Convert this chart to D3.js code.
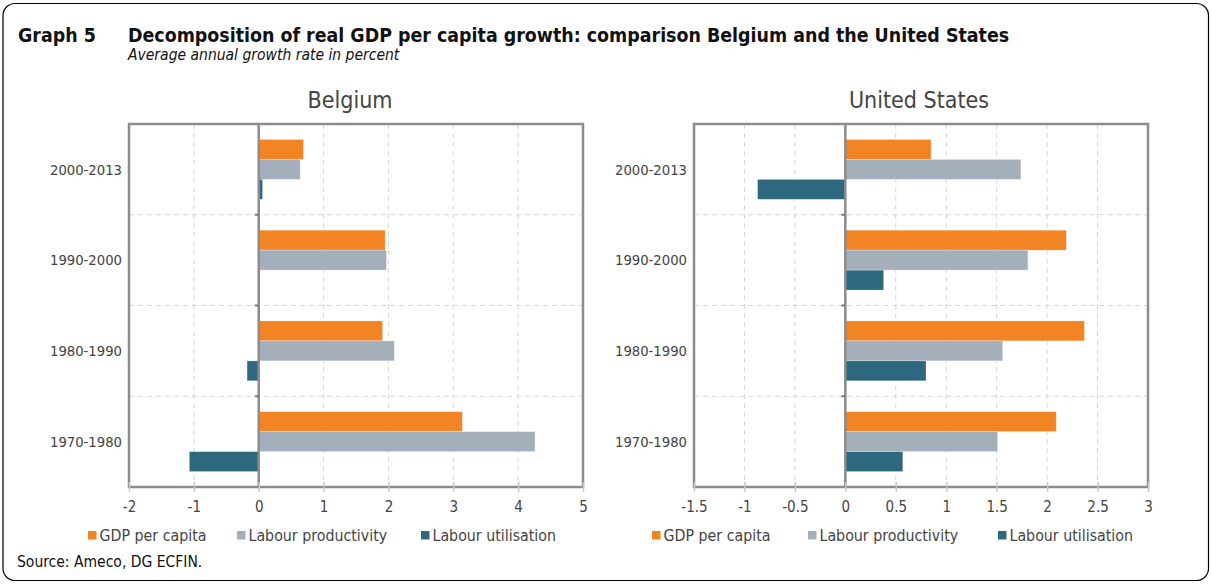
<!DOCTYPE html>
<html>
<head>
<meta charset="utf-8">
<script src="https://cdn.jsdelivr.net/npm/d3@7"></script>
<style>
  body { margin: 0; background: #fff; }
  svg { display: block; font-family: "DejaVu Sans Condensed", "DejaVu Sans", sans-serif; }
</style>
</head>
<body>
<div id="chart"></div>
<script>
// ---------- Data ----------
const periods = ["2000-2013", "1990-2000", "1980-1990", "1970-1980"];
const seriesNames = ["GDP per capita", "Labour productivity", "Labour utilisation"];
const seriesColors = ["#F28424", "#A5AFBC", "#2E687F"];

const belgiumGdp = [0.69, 1.95, 1.91, 3.14];
const belgiumProductivity = [0.64, 1.97, 2.09, 4.26];
const belgiumUtilisation = [0.06, 0.0, -0.18, -1.07];

const usGdp = [0.85, 2.19, 2.37, 2.09];
const usProductivity = [1.74, 1.81, 1.56, 1.51];
const usUtilisation = [-0.87, 0.38, 0.80, 0.57];

const belgiumTicks = [-2, -1, 0, 1, 2, 3, 4, 5];
const usTicks = [-1.5, -1, -0.5, 0, 0.5, 1, 1.5, 2, 2.5, 3];

const W = 1212, H = 584;

const svg = d3.select("#chart").append("svg")
  .attr("width", W)
  .attr("height", H);

// ---------- Frame & titles ----------
svg.append("rect")
  .attr("x", 3).attr("y", 3.5)
  .attr("width", W - 6.5).attr("height", H - 7)
  .attr("rx", 12)
  .attr("fill", "none")
  .attr("stroke", "#000")
  .attr("stroke-width", 1.2);

svg.append("text")
  .attr("x", 18).attr("y", 42)
  .attr("font-size", 19.4).attr("font-weight", "bold")
  .attr("fill", "#111")
  .text("Graph 5");

svg.append("text")
  .attr("x", 128).attr("y", 42)
  .attr("font-size", 19.4).attr("font-weight", "bold")
  .attr("fill", "#111")
  .text("Decomposition of real GDP per capita growth: comparison Belgium and the United States");

svg.append("text")
  .attr("x", 128).attr("y", 60)
  .attr("font-size", 15.5).attr("font-style", "italic")
  .attr("fill", "#111")
  .text("Average annual growth rate in percent");

svg.append("text")
  .attr("x", 17).attr("y", 567)
  .attr("font-size", 15.5)
  .attr("fill", "#111")
  .text("Source: Ameco, DG ECFIN.");

// ---------- Panels ----------
drawPanel({
  title: "Belgium",
  titleX: 350,
  domain: [-2, 5],
  ticks: belgiumTicks,
  x0: 129, x1: 583,
  series: [belgiumGdp, belgiumProductivity, belgiumUtilisation],
  legendX: [88, 237, 421]
});

drawPanel({
  title: "United States",
  titleX: 919,
  domain: [-1.5, 3],
  ticks: usTicks,
  x0: 694, x1: 1148,
  series: [usGdp, usProductivity, usUtilisation],
  legendX: [652, 808, 998]
});

function drawPanel(cfg) {
  const top = 124, bottom = 487;
  const g = svg.append("g");

  const x = d3.scaleLinear().domain(cfg.domain).range([cfg.x0, cfg.x1]);
  const y = d3.scaleBand().domain(periods).range([top, bottom])
    .paddingInner(0.34).paddingOuter(0.17);
  const ySub = d3.scaleBand().domain(d3.range(seriesNames.length)).range([0, y.bandwidth()]);

  const step = y.step();
  const bandEdges = d3.range(1, periods.length).map(i => top + i * step);

  // title
  g.append("text")
    .attr("x", cfg.titleX).attr("y", 108)
    .attr("text-anchor", "middle")
    .attr("font-size", 23)
    .attr("fill", "#444")
    .text(cfg.title);

  // grid
  g.append("g").selectAll("line")
    .data(cfg.ticks.filter(t => t !== 0 && t !== cfg.domain[0] && t !== cfg.domain[1]))
    .join("line")
    .attr("x1", d => x(d)).attr("x2", d => x(d))
    .attr("y1", top).attr("y2", bottom)
    .attr("stroke", "#d6d6d6")
    .attr("stroke-dasharray", "5,4");

  g.append("g").selectAll("line")
    .data(bandEdges)
    .join("line")
    .attr("x1", cfg.x0).attr("x2", cfg.x1)
    .attr("y1", d => d).attr("y2", d => d)
    .attr("stroke", "#d6d6d6")
    .attr("stroke-dasharray", "5,4");

  // bars
  cfg.series.forEach((vals, si) => {
    g.append("g").selectAll("rect")
      .data(vals)
      .join("rect")
      .attr("x", d => x(Math.min(0, d)))
      .attr("width", d => Math.abs(x(d) - x(0)))
      .attr("y", (d, i) => y(periods[i]) + ySub(si))
      .attr("height", ySub.bandwidth())
      .attr("fill", seriesColors[si])
      .attr("stroke", "#fff")
      .attr("stroke-opacity", 0.5)
      .attr("stroke-width", 0.6);
  });

  // frame
  g.append("rect")
    .attr("x", cfg.x0).attr("y", top)
    .attr("width", cfg.x1 - cfg.x0).attr("height", bottom - top)
    .attr("fill", "none")
    .attr("stroke", "#8c8c8c")
    .attr("stroke-width", 2.5);

  // zero axis with category ticks
  g.append("line")
    .attr("x1", x(0)).attr("x2", x(0))
    .attr("y1", top).attr("y2", bottom)
    .attr("stroke", "#8c8c8c")
    .attr("stroke-width", 2.5);

  g.append("g").selectAll("line")
    .data(bandEdges)
    .join("line")
    .attr("x1", x(0) - 4).attr("x2", x(0))
    .attr("y1", d => d).attr("y2", d => d)
    .attr("stroke", "#7a7a7a")
    .attr("stroke-width", 2);

  // x axis
  const xAxis = g.append("g")
    .attr("transform", `translate(0,${bottom})`)
    .call(d3.axisBottom(x).tickValues(cfg.ticks).tickSize(5).tickSizeOuter(0).tickPadding(9)
      .tickFormat(d => String(d)));
  xAxis.select(".domain").remove();
  xAxis.selectAll(".tick line")
    .attr("y1", -5)
    .attr("stroke", "#c8c8c8")
    .attr("stroke-width", 1.5);
  xAxis.selectAll(".tick text")
    .attr("font-size", 15)
    .attr("font-family", "DejaVu Sans Condensed, DejaVu Sans, sans-serif")
    .attr("fill", "#444");

  // y labels
  g.append("g").selectAll("text")
    .data(periods)
    .join("text")
    .attr("x", cfg.x0 - 7)
    .attr("y", d => y(d) + y.bandwidth() / 2)
    .attr("dy", "0.35em")
    .attr("text-anchor", "end")
    .attr("font-size", 14.7)
    .attr("fill", "#444")
    .text(d => d);

  // legend
  const legend = g.append("g");
  seriesNames.forEach((name, i) => {
    legend.append("rect")
      .attr("x", cfg.legendX[i]).attr("y", 531)
      .attr("width", 8.5).attr("height", 8.5)
      .attr("fill", seriesColors[i]);
    legend.append("text")
      .attr("x", cfg.legendX[i] + 11.5).attr("y", 540.5)
      .attr("font-size", 15.8)
      .attr("fill", "#444")
      .text(name);
  });
}
</script>
</body>
</html>
